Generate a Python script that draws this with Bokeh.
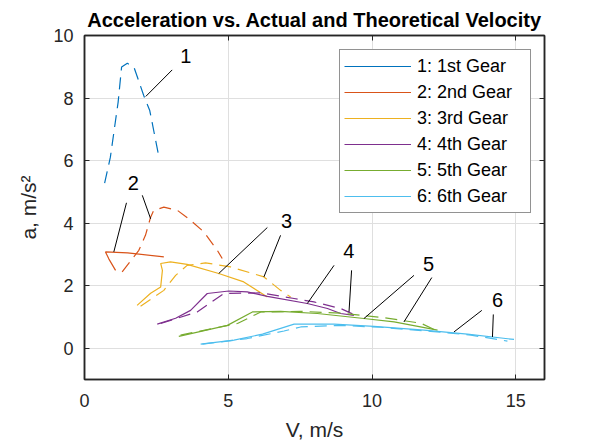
from bokeh.plotting import figure
from bokeh.models import (Range1d, LinearAxis, Legend, LegendItem, FixedTicker,
                          Label, ColumnDataSource)
from bokeh.embed import file_html
from bokeh.resources import INLINE

# ---------------- data ----------------
gear_names = ["1: 1st Gear", "2: 2nd Gear", "3: 3rd Gear",
              "4: 4th Gear", "5: 5th Gear", "6: 6th Gear"]
colors = ["#0072BD", "#D95319", "#EDB120", "#7E2F8E", "#77AC30", "#4DBEEE"]

# actual (solid)
v1_act = [-0.4, 0.0]
a1_act = [3.2, 3.26]
v2_act = [1.08, 0.85, 0.73, 1.5, 2.76]
a2_act = [2.49, 2.85, 3.08, 3.05, 2.92]
v3_act = [1.83, 2.30, 2.65, 2.71, 2.65, 2.99, 3.57, 4.67, 5.54, 6.36]
a3_act = [1.37, 1.76, 1.96, 2.49, 2.71, 2.76, 2.68, 2.39, 2.12, 1.64]
v4_act = [2.53, 3.17, 3.69, 4.27, 5.02, 5.66, 6.36, 7.75, 8.45, 8.91, 9.37]
a4_act = [0.77, 0.96, 1.21, 1.75, 1.83, 1.80, 1.66, 1.43, 1.27, 1.11, 1.05]
v5_act = [3.28, 4.97, 5.84, 6.82, 8.10, 9.72, 10.77, 12.28]
a5_act = [0.38, 0.73, 1.16, 1.18, 1.11, 0.95, 0.84, 0.58]
v6_act = [4.04, 5.20, 6.19, 7.29, 8.68, 10.07, 11.81, 13.32, 14.94]
a6_act = [0.13, 0.26, 0.45, 0.77, 0.77, 0.70, 0.58, 0.45, 0.28]

# theoretical (dashed)
v1_th = [0.70, 0.90, 1.17, 1.29, 1.49, 1.72, 2.06, 2.27, 2.59]
a1_th = [5.28, 6.11, 7.87, 8.99, 9.11, 8.99, 8.08, 7.60, 6.11]
v2_th = [1.31, 1.89, 2.12, 2.30, 2.41, 2.76, 3.23, 3.69, 4.15, 4.62, 4.79]
a2_th = [2.44, 3.13, 3.61, 4.19, 4.41, 4.51, 4.41, 4.09, 3.72, 3.13, 2.87]
v3_th = [1.95, 2.76, 3.17, 3.57, 4.21, 5.08, 6.24, 6.82, 7.17]
a3_th = [1.34, 1.85, 2.33, 2.65, 2.73, 2.60, 2.28, 1.85, 1.64]
v4_th = [2.65, 3.92, 4.85, 6.13, 7.29, 7.98, 8.91, 9.43]
a4_th = [0.79, 1.16, 1.75, 1.77, 1.59, 1.48, 1.27, 1.05]
v5_th = [3.34, 5.32, 6.13, 7.52, 8.91, 10.30, 11.70, 12.28]
a5_th = [0.42, 0.79, 1.16, 1.18, 1.12, 0.99, 0.80, 0.55]
v6_th = [4.10, 5.66, 6.94, 7.52, 8.91, 10.30, 12.04, 13.44, 14.71]
a6_th = [0.13, 0.31, 0.55, 0.68, 0.73, 0.67, 0.54, 0.42, 0.23]

# annotations: label text, label position, leader lines (x0, y0, x1, y1)
ann_text = ["1", "2", "3", "4", "5", "6"]
ann_x = [3.52, 1.70, 7.03, 9.19, 11.97, 14.37]
ann_y = [9.36, 5.27, 4.06, 3.10, 2.68, 1.53]
lead_x0 = [3.05, 1.46, 2.01, 6.36, 6.82, 8.68, 9.29, 11.46, 12.08, 13.82, 14.22]
lead_y0 = [8.90, 4.65, 4.89, 3.86, 3.61, 2.65, 2.49, 2.33, 2.26, 1.21, 1.08]
lead_x1 = [2.13, 1.02, 2.30, 4.67, 6.24, 7.75, 9.20, 9.72, 11.11, 12.85, 14.19]
lead_y1 = [8.05, 3.08, 4.14, 2.39, 2.28, 1.43, 1.16, 0.95, 0.84, 0.52, 0.36]

x_ticks = [0, 5, 10, 15]
y_ticks = [0, 2, 4, 6, 8, 10]

# ---------------- figure ----------------
FONT = "Liberation Sans"
AX = "#262626"

p = figure(width=592, height=444, output_backend="svg", toolbar_location=None,
           x_range=Range1d(0, 16), y_range=Range1d(-1, 10),
           min_border_left=84, min_border_right=48, min_border_top=35,
           min_border_bottom=65, background_fill_color="white",
           border_fill_color="white")

p.title.text = "Acceleration vs. Actual and Theoretical Velocity"
p.title.align = "center"
p.title.text_font = FONT
p.title.text_font_size = "20px"
p.title.text_font_style = "bold"
p.title.text_color = "black"
p.title.standoff = 10

p.outline_line_color = AX
p.outline_line_width = 1.5

for ax in (p.xaxis[0], p.yaxis[0]):
    ax.major_tick_in = 5
    ax.major_tick_out = 0
    ax.minor_tick_in = 0
    ax.minor_tick_out = 0
    ax.axis_line_color = AX
    ax.axis_line_width = 1.5
    ax.major_tick_line_color = AX
    ax.major_label_text_font = FONT
    ax.major_label_text_font_size = "18px"
    ax.major_label_text_color = AX
    ax.axis_label_text_font = FONT
    ax.axis_label_text_font_size = "21px"
    ax.axis_label_text_font_style = "normal"
    ax.axis_label_text_color = AX

p.xaxis[0].ticker = FixedTicker(ticks=x_ticks)
p.yaxis[0].ticker = FixedTicker(ticks=y_ticks)
p.xaxis[0].axis_label = "V, m/s"
p.yaxis[0].axis_label = "a, m/s\u00b2"
p.xaxis[0].major_label_standoff = 14
p.yaxis[0].major_label_standoff = 11
p.xaxis[0].axis_label_standoff = 8
p.yaxis[0].axis_label_standoff = 10

# top / right axes with inward ticks, labels blank
top = LinearAxis(ticker=FixedTicker(ticks=x_ticks),
                 major_label_overrides={t: "" for t in x_ticks},
                 major_tick_in=5, major_tick_out=0, minor_tick_in=0, minor_tick_out=0,
                 axis_line_color=AX, major_tick_line_color=AX, axis_line_width=1.5)
right = LinearAxis(ticker=FixedTicker(ticks=y_ticks),
                   major_label_overrides={t: "" for t in y_ticks},
                   major_tick_in=5, major_tick_out=0, minor_tick_in=0, minor_tick_out=0,
                   axis_line_color=AX, major_tick_line_color=AX, axis_line_width=1.5)
p.add_layout(top, "above")
p.add_layout(right, "right")

p.xgrid.ticker = FixedTicker(ticks=x_ticks)
p.ygrid.ticker = FixedTicker(ticks=y_ticks)
p.xgrid.grid_line_color = "#dfdfdf"
p.ygrid.grid_line_color = "#dfdfdf"

act = [(v1_act, a1_act), (v2_act, a2_act), (v3_act, a3_act),
       (v4_act, a4_act), (v5_act, a5_act), (v6_act, a6_act)]
th = [(v1_th, a1_th), (v2_th, a2_th), (v3_th, a3_th),
      (v4_th, a4_th), (v5_th, a5_th), (v6_th, a6_th)]

items = []
for i in range(6):
    r = p.line(act[i][0], act[i][1], line_color=colors[i], line_width=1.2)
    p.line(th[i][0], th[i][1], line_color=colors[i], line_width=1.2,
           line_dash="12 7")
    items.append(LegendItem(label=gear_names[i], renderers=[r]))

# leader lines and labels
src = ColumnDataSource(dict(x0=lead_x0, y0=lead_y0, x1=lead_x1, y1=lead_y1))
p.segment("x0", "y0", "x1", "y1", source=src, line_color="black", line_width=1)
for t, x, y in zip(ann_text, ann_x, ann_y):
    p.add_layout(Label(x=x, y=y, text=t, text_font=FONT, text_font_size="20px",
                       text_color="black", text_align="center",
                       text_baseline="middle"))

legend = Legend(items=items, location=(255, 166), orientation="vertical",
                label_text_font=FONT, label_text_font_size="18px",
                label_text_color="black", glyph_width=67, glyph_height=24,
                label_height=24, spacing=2, padding=4, margin=0,
                label_standoff=6, label_width=109,
                border_line_color=AX, border_line_width=1,
                background_fill_color="white", background_fill_alpha=1)
p.add_layout(legend, "center")

open("out.html", "w").write(file_html(p, INLINE))
